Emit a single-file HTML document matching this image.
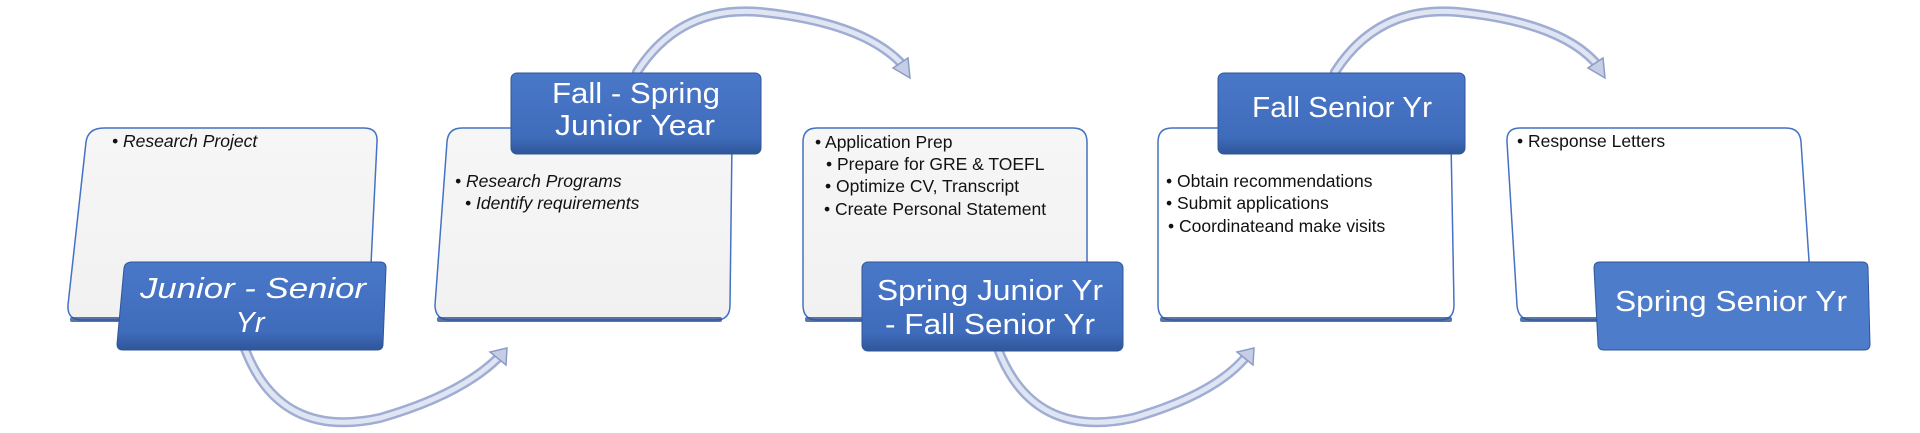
<!DOCTYPE html>
<html><head><meta charset="utf-8"><style>
html,body{margin:0;padding:0;background:#fff;}
svg{display:block}
text{font-family:"Liberation Sans",sans-serif;}
</style></head><body>
<svg width="1920" height="433" viewBox="0 0 1920 433" xmlns="http://www.w3.org/2000/svg">
<defs>
<linearGradient id="card" x1="0" y1="0" x2="0" y2="1"><stop offset="0" stop-color="#f6f6f6"/><stop offset="1" stop-color="#f1f1f1"/></linearGradient>
<linearGradient id="lab" x1="0" y1="0" x2="0" y2="1"><stop offset="0" stop-color="#4a78c8"/><stop offset="0.8" stop-color="#3f6bbb"/><stop offset="1" stop-color="#2f5699"/></linearGradient>
</defs>

<g fill="none" stroke-linecap="round">
<path d="M245 349 Q280 440 380 418 Q460 395 498 358" stroke="#9fadd3" stroke-width="10"/>
<path d="M245 349 Q280 440 380 418 Q460 395 498 358" stroke="#dfe5f3" stroke-width="5"/>
<path d="M637 72 Q680 5 760 12 Q860 22 900 62" stroke="#9fadd3" stroke-width="10"/>
<path d="M637 72 Q680 5 760 12 Q860 22 900 62" stroke="#dfe5f3" stroke-width="5"/>
<path d="M998 349 Q1033 440 1133 418 Q1213 395 1245 358" stroke="#9fadd3" stroke-width="10"/>
<path d="M998 349 Q1033 440 1133 418 Q1213 395 1245 358" stroke="#dfe5f3" stroke-width="5"/>
<path d="M1335 72 Q1378 5 1458 12 Q1558 22 1595 62" stroke="#9fadd3" stroke-width="10"/>
<path d="M1335 72 Q1378 5 1458 12 Q1558 22 1595 62" stroke="#dfe5f3" stroke-width="5"/>
</g>
<polygon points="507,348 490,352 506,365" fill="#c5cee6" stroke="#8d9cc6" stroke-width="1.5"/>
<polygon points="910,78 893,68 908,58" fill="#c5cee6" stroke="#8d9cc6" stroke-width="1.5"/>
<polygon points="1254,348 1237,352 1253,365" fill="#c5cee6" stroke="#8d9cc6" stroke-width="1.5"/>
<polygon points="1605,78 1588,68 1603,58" fill="#c5cee6" stroke="#8d9cc6" stroke-width="1.5"/>

<g stroke="#4472c4" stroke-width="1.5">
<path d="M114 128 L364 128 Q378 128 377 142 L369 305 Q368 320 354 320 L82 320 Q67 320 68 305 L86 142 Q88 128 104 128Z" fill="url(#card)"/>
<path d="M462 128 L718 128 Q732 128 732 142 L730 305 Q730 320 716 320 L450 320 Q435 320 435 305 L447 142 Q448 128 462 128Z" fill="url(#card)"/>
<path d="M817 128 L1073 128 Q1087 128 1087 142 L1087 305 Q1087 320 1073 320 L817 320 Q803 320 803 305 L803 142 Q803 128 817 128Z" fill="url(#card)"/>
<path d="M1172 128 L1437 128 Q1451 128 1451 142 L1454 305 Q1454 320 1440 320 L1172 320 Q1158 320 1158 305 L1158 142 Q1158 128 1172 128Z" fill="#fff"/>
<path d="M1520 128 L1786 128 Q1800 128 1801 142 L1812 305 Q1813 320 1799 320 L1532 320 Q1518 320 1517 305 L1507 142 Q1506 128 1520 128Z" fill="#fff"/>
</g>
<g fill="#2e5596" opacity="0.8">
<rect x="70" y="317" width="285" height="5" rx="2"/>
<rect x="437" y="317" width="285" height="5" rx="2"/>
<rect x="805" y="317" width="280" height="5" rx="2"/>
<rect x="1160" y="317" width="292" height="5" rx="2"/>
<rect x="1520" y="317" width="280" height="5" rx="2"/>
</g>

<g stroke="#2f5699" stroke-width="1">
<path d="M132 262 L380 262 Q386 262 386 268 L383 344 Q383 350 377 350 L123 350 Q117 350 117 344 L124 268 Q125 262 132 262Z" fill="url(#lab)"/>
<rect x="511" y="73" width="250" height="81" rx="6" fill="url(#lab)"/>
<rect x="862" y="262" width="261" height="89" rx="6" fill="url(#lab)"/>
<rect x="1218" y="73" width="247" height="81" rx="6" fill="url(#lab)"/>
<path d="M1600 262 L1862 262 Q1868 262 1868 268 L1870 344 Q1870 350 1864 350 L1604 350 Q1598 350 1598 344 L1594 268 Q1594 262 1600 262Z" fill="#4d7ccb"/>
</g>

<g fill="#fff" font-size="29" text-anchor="middle">
<text x="253" y="298" font-style="italic" textLength="226" lengthAdjust="spacingAndGlyphs">Junior - Senior</text>
<text x="250" y="332" font-style="italic">Yr</text>
<text x="636" y="103" textLength="168" lengthAdjust="spacingAndGlyphs">Fall - Spring</text>
<text x="635" y="135" textLength="160" lengthAdjust="spacingAndGlyphs">Junior Year</text>
<text x="990" y="300" textLength="226" lengthAdjust="spacingAndGlyphs">Spring Junior Yr</text>
<text x="990" y="334" textLength="210" lengthAdjust="spacingAndGlyphs">- Fall Senior Yr</text>
<text x="1342" y="117" textLength="180" lengthAdjust="spacingAndGlyphs">Fall Senior Yr</text>
<text x="1731" y="311" textLength="232" lengthAdjust="spacingAndGlyphs">Spring Senior Yr</text>
</g>

<g fill="#111" font-size="17.5">
<text x="112" y="147" font-style="italic">• Research Project</text>
<text x="455" y="187" font-style="italic">• Research Programs</text>
<text x="465" y="209" font-style="italic">• Identify requirements</text>
<text x="815" y="148">• Application Prep</text>
<text x="826" y="170">• Prepare for GRE &amp; TOEFL</text>
<text x="825" y="192">• Optimize CV, Transcript</text>
<text x="824" y="215">• Create Personal Statement</text>
<text x="1166" y="187">• Obtain recommendations</text>
<text x="1166" y="209">• Submit applications</text>
<text x="1168" y="232">• Coordinateand make visits</text>
<text x="1517" y="147">• Response Letters</text>
</g>
</svg>
</body></html>
